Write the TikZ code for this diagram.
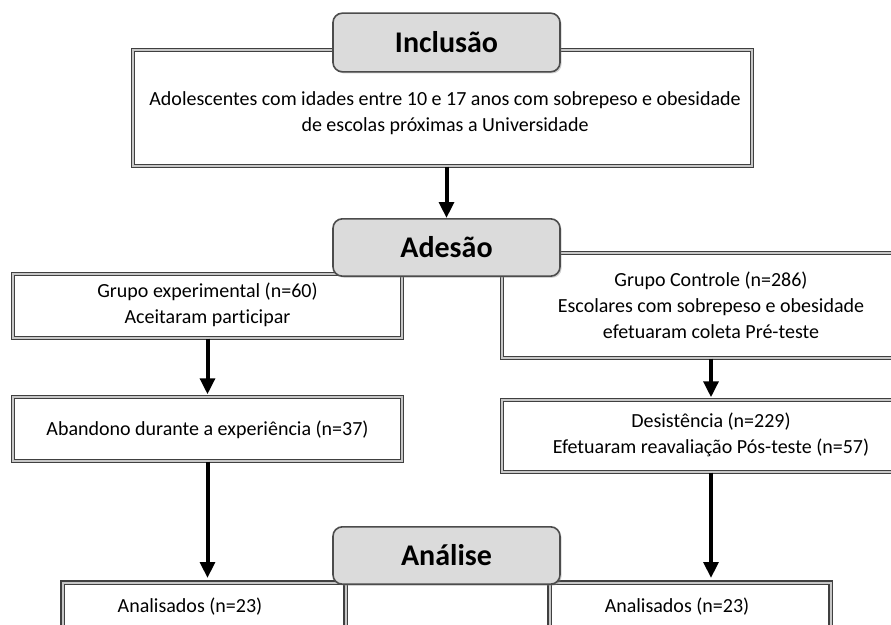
\documentclass[tikz,border=0pt]{standalone}
\usepackage{fontspec}
\setmainfont{Carlito}[Ligatures=NoCommon]
\usetikzlibrary{arrows.meta,shadows}
\begin{document}
\begin{tikzpicture}[x=0.75pt,y=-0.75pt,
  box/.style={draw=black!75, line width=1pt, double=black!22, double distance=1.6pt, fill=white, inner sep=0pt},
  hdr/.style={draw=black!70, line width=1.2pt, fill=black!14, rounded corners=7pt, inner sep=0pt,
     minimum width=170.25pt, font=\fontsize{22.5}{26}\selectfont\bfseries,
     drop shadow={shadow xshift=1.2pt, shadow yshift=-1.2pt, opacity=0.35}},
  txt/.style={font=\fontsize{15}{19.5}\selectfont, align=center, inner sep=0pt},
  arr/.style={line width=3pt, -{Triangle[width=11pt,length=12pt]}}]
\clip (0,0) rectangle (891,624);
\fill[white] (0,0) rectangle (891,624);

% boxes
\node[box, minimum width=464.25pt, minimum height=87pt] (incl) at (442.5,108) {};
\node[txt] (inclt) at (445,113) {Adolescentes com idades entre 10 e 17 anos com sobrepeso e obesidade\\de escolas próximas a Universidade};

\node[box, minimum width=291.75pt, minimum height=48pt] (grpE) at (207.5,306) {};
\node[txt] (grpEt) at (207.5,305) {Grupo experimental (n=60)\\Aceitaram participar};

\node[box, minimum width=313.5pt, minimum height=78.75pt] (grpC) at (711,305.5) {};
\node[txt] (grpCt) at (711,305) {Grupo Controle (n=286)\\Escolares com sobrepeso e obesidade\\efetuaram coleta Pré-teste};

\node[box, minimum width=291.75pt, minimum height=48pt] (aband) at (207.5,429) {};
\node[txt] (abandt) at (207.5,430) {Abandono durante a experiência (n=37)};

\node[box, minimum width=313.5pt, minimum height=54pt] (desis) at (711,436) {};
\node[txt] (desist) at (711,435) {Desistência (n=229)\\Efetuaram reavaliação Pós-teste (n=57)};

\node[box, minimum width=212.25pt, minimum height=75pt, anchor=north west] (analL) at (62,582) {};
\node[txt] (analLt) at (190,607) {Analisados (n=23)};
\node[box, minimum width=210.75pt, minimum height=75pt, anchor=north west] (analR) at (549,582) {};
\node[txt] (analRt) at (677,607) {Analisados (n=23)};

% headers
\node[hdr, minimum height=44pt] (hIncl) at (446.5,42.5) {Inclusão};
\node[hdr, minimum height=43pt] (hAdes) at (446.5,247.5) {Adesão};
\node[hdr, minimum height=43pt] (hAnal) at (446.5,555.5) {Análise};

% arrows
\draw[arr] (incl.south -| hIncl) -- (hAdes.north);
\draw[arr] (grpE.south) -- ([yshift=1.5pt]aband.north);
\draw[arr] (grpC.south) -- ([yshift=1.5pt]desis.north);
\draw[arr] (aband.south) -- ([yshift=3pt]analL.north -| aband.south);
\draw[arr] (desis.south) -- ([yshift=3pt]analR.north -| desis.south);
\end{tikzpicture}
\end{document}
